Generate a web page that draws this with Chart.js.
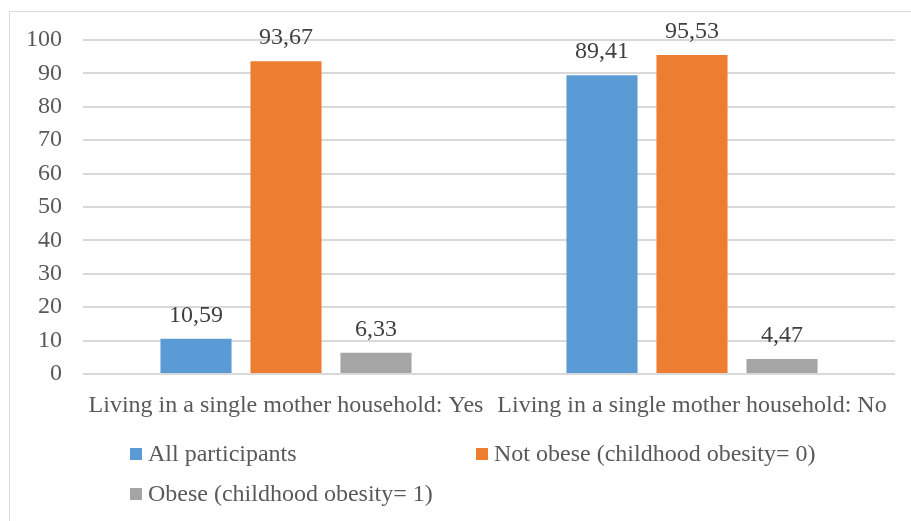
<!DOCTYPE html>
<html>
<head>
<meta charset="utf-8">
<script src="https://cdn.jsdelivr.net/npm/chart.js@4/dist/chart.umd.min.js"></script>
<style>
  html, body { margin: 0; padding: 0; background: #fff; }
  #wrap { position: relative; width: 911px; height: 521px; overflow: hidden; }
  #frame { position: absolute; left: 9px; top: 11px; width: 910px; height: 520px; border: 1px solid #d9d9d9; pointer-events: none; }
  .lg { position: absolute; font: 24px "Liberation Serif", "Times New Roman", serif; color: #595959; white-space: nowrap; line-height: 24px; }
  .lg i { display: inline-block; width: 12px; height: 12px; margin-right: 6px; vertical-align: 1px; }
</style>
</head>
<body>
<div id="wrap">
  <canvas id="chart"></canvas>
  <div id="frame"></div>
  <div id="legend"></div>
</div>
<script>
// chart data
const categories = ['Living in a single mother household: Yes', 'Living in a single mother household: No'];
const seriesNames = ['All participants', 'Not obese (childhood obesity= 0)', 'Obese (childhood obesity= 1)'];
const allParticipants = [10.59, 89.41];
const notObese = [93.67, 95.53];
const obese = [6.33, 4.47];
const yTicks = [0, 10, 20, 30, 40, 50, 60, 70, 80, 90, 100];

const colors = ['#5B9BD5', '#ED7D31', '#A5A5A5'];
const serif = '"Liberation Serif", "Times New Roman", serif';

// value labels above bars, comma decimal
const valueLabels = {
  id: 'valueLabels',
  afterDatasetsDraw(chart) {
    const ctx = chart.ctx;
    ctx.save();
    ctx.font = '24px ' + serif;
    ctx.fillStyle = '#404040';
    ctx.textAlign = 'center';
    ctx.textBaseline = 'alphabetic';
    chart.data.datasets.forEach((ds, i) => {
      chart.getDatasetMeta(i).data.forEach((bar, j) => {
        const txt = ds.data[j].toFixed(2).replace('.', ',');
        ctx.fillText(txt, bar.x, bar.y - 17);
      });
    });
    ctx.restore();
  }
};

new Chart(document.getElementById('chart'), {
  type: 'bar',
  data: {
    labels: categories,
    datasets: [
      { label: seriesNames[0], data: allParticipants, backgroundColor: colors[0] },
      { label: seriesNames[1], data: notObese, backgroundColor: colors[1] },
      { label: seriesNames[2], data: obese, backgroundColor: colors[2] }
    ]
  },
  options: {
    responsive: true,
    maintainAspectRatio: false,
    animation: false,
    layout: { padding: { top: 40, right: 16, left: 0, bottom: 0 } },
    datasets: { bar: { categoryPercentage: 0.665, barPercentage: 0.79 } },
    plugins: {
      legend: { display: false },
      tooltip: { enabled: false }
    },
    scales: {
      x: {
        grid: { display: false },
        border: { display: false },
        ticks: { color: '#595959', font: { family: serif, size: 24 }, padding: 9, maxRotation: 0, autoSkip: false },
        afterFit(scale) { scale.height = 147; }
      },
      y: {
        min: 0,
        max: 100,
        afterBuildTicks(scale) { scale.ticks = yTicks.map(v => ({ value: v })); },
        grid: { color: '#d9d9d9', lineWidth: 2, drawTicks: false },
        border: { display: false },
        ticks: { color: '#595959', font: { family: serif, size: 24 }, padding: 21 },
        afterFit(scale) { scale.width = 83; }
      }
    }
  },
  plugins: [valueLabels]
});

// legend in two columns like the original
const legendPos = [[130, 441], [476, 441], [130, 481]];
document.getElementById('legend').innerHTML = seriesNames.map((name, i) =>
  '<div class="lg" style="left:' + legendPos[i][0] + 'px;top:' + legendPos[i][1] + 'px"><i style="background:' + colors[i] + '"></i>' + name + '</div>'
).join('');
</script>
</body>
</html>
